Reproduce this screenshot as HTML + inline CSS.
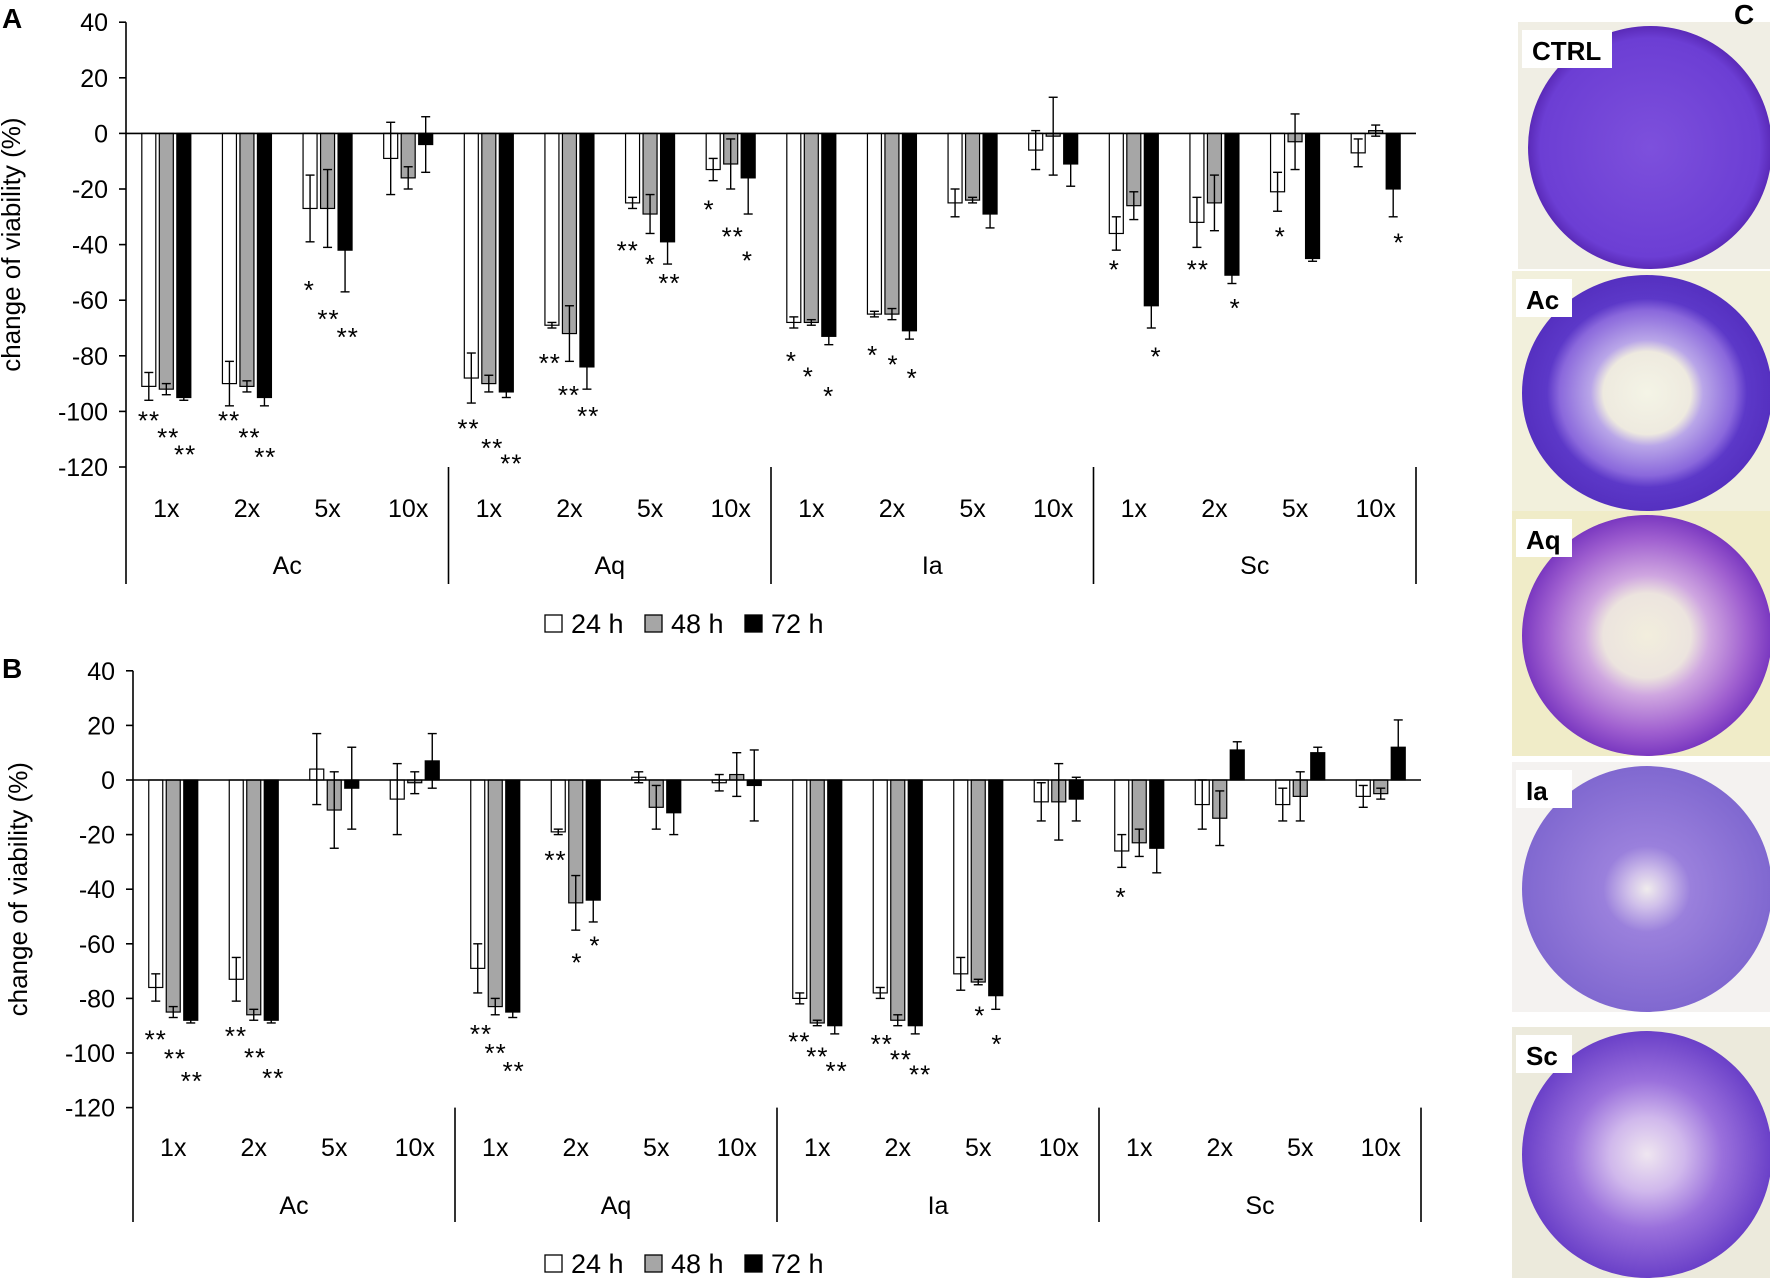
<!DOCTYPE html>
<html><head><meta charset="utf-8"><style>
html,body{margin:0;padding:0;background:#fff;}
svg{display:block;font-family:"Liberation Sans",sans-serif;}
</style></head><body>
<svg id="s" width="1770" height="1278" xmlns="http://www.w3.org/2000/svg">
<defs>
<radialGradient id="gctrl" cx="50%" cy="50%" r="50%"><stop offset="0" stop-color="#7d50dc"/><stop offset="0.9" stop-color="#6c3ed4"/><stop offset="1" stop-color="#5a2ab8"/></radialGradient>
<radialGradient id="gac" cx="50%" cy="50%" r="50%"><stop offset="0" stop-color="#f4f4e6"/><stop offset="0.35" stop-color="#eeeadf"/><stop offset="0.45" stop-color="#b9a6e8"/><stop offset="0.7" stop-color="#8a68dc"/><stop offset="0.8" stop-color="#5c38c8"/><stop offset="1" stop-color="#5530c0"/></radialGradient>
<radialGradient id="gaq" cx="50%" cy="50%" r="50%"><stop offset="0" stop-color="#f2eedd"/><stop offset="0.35" stop-color="#ece4de"/><stop offset="0.5" stop-color="#cfa6e0"/><stop offset="0.8" stop-color="#a060d0"/><stop offset="1" stop-color="#7a38c0"/></radialGradient>
<radialGradient id="gia" cx="50%" cy="50%" r="50%"><stop offset="0" stop-color="#f0ecec"/><stop offset="0.15" stop-color="#d0c0ea"/><stop offset="0.35" stop-color="#9a80dc"/><stop offset="1" stop-color="#8068d0"/></radialGradient>
<radialGradient id="gsc" cx="50%" cy="50%" r="50%"><stop offset="0" stop-color="#efe6f0"/><stop offset="0.3" stop-color="#d0b8ec"/><stop offset="0.6" stop-color="#9a70dc"/><stop offset="1" stop-color="#6a40c8"/></radialGradient>
</defs>
</svg>
<script>
const S=document.getElementById('s');const NS='http://www.w3.org/2000/svg';
function el(t,a,txt){const e=document.createElementNS(NS,t);for(const k in a)e.setAttribute(k,a[k]);if(txt!==undefined)e.textContent=txt;S.appendChild(e);return e;}
const groups=['Ac','Aq','Ia','Sc'],cats=['1x','2x','5x','10x'],fills=['#fff','#a6a6a6','#000'];
function panel(P){
 const {x0,gw,y0,k,label,lx,ly,data,stars,right,legY,catY,grpY,divBot}=P;
 const Y=v=>y0-v*k;
 el('text',{x:2,y:ly,'font-size':28,'font-weight':'bold'},label);
 el('line',{x1:x0,y1:Y(40),x2:x0,y2:divBot,stroke:'#000','stroke-width':1.6});
 for(let v=40;v>=-120;v-=20){el('line',{x1:x0-7,y1:Y(v),x2:x0,y2:Y(v),stroke:'#000','stroke-width':1.6});
  el('text',{x:x0-18,y:Y(v)+9,'font-size':25,'text-anchor':'end'},String(v));}
 el('text',{transform:`translate(${lx},${(Y(40)+Y(-120))/2}) rotate(-90)`,'font-size':26,'text-anchor':'middle'},'change of viability (%)');
 const cw=gw/4;
 data.forEach((row,i)=>{const g=Math.floor(i/4),c=i%4;const cx=x0+g*gw+(c+0.5)*cw;
  row.forEach((d,j)=>{const bx=cx+(j-1)*17.5;const v=d[0],e=d[1];
   const ya=Math.min(Y(0),Y(v)),h=Math.abs(Y(v)-Y(0));
   el('rect',{x:bx-7,y:ya,width:14,height:Math.max(h,0.5),fill:fills[j],stroke:'#000','stroke-width':1.2});
   el('line',{x1:bx,y1:Y(v+e),x2:bx,y2:Y(v-e),stroke:'#000','stroke-width':1.4});
   el('line',{x1:bx-4.5,y1:Y(v+e),x2:bx+4.5,y2:Y(v+e),stroke:'#000','stroke-width':1.4});
   el('line',{x1:bx-4.5,y1:Y(v-e),x2:bx+4.5,y2:Y(v-e),stroke:'#000','stroke-width':1.4});
  });
  el('text',{x:cx,y:catY,'font-size':25,'text-anchor':'middle'},cats[c]);
 });
 el('line',{x1:x0,y1:Y(0),x2:right,y2:Y(0),stroke:'#000','stroke-width':1.6});
 for(let g=0;g<4;g++){const xd=x0+(g+1)*gw;el('line',{x1:xd,y1:Y(-120),x2:xd,y2:divBot,stroke:'#000','stroke-width':1.6});
  el('text',{x:x0+g*gw+gw/2,y:grpY,'font-size':25,'text-anchor':'middle'},groups[g]);}
 stars.forEach(s=>{el('text',{x:s[0]*1.129,y:s[1]*1.129+12,'font-size':26,'text-anchor':'middle','letter-spacing':1},s[2]);});
 const L=[[545,'#fff','24 h'],[645,'#a6a6a6','48 h'],[745,'#000','72 h']];
 L.forEach(l=>{el('rect',{x:l[0],y:legY-8,width:17,height:17,fill:l[1],stroke:'#000','stroke-width':1.3});
  el('text',{x:l[0]+26,y:legY+10,'font-size':27},l[2]);});
}
const A=[
[[-91,5],[-92,2],[-95,1]],[[-90,8],[-91,2],[-95,3]],[[-27,12],[-27,14],[-42,15]],[[-9,13],[-16,4],[-4,10]],
[[-88,9],[-90,3],[-93,2]],[[-69,1],[-72,10],[-84,8]],[[-25,2],[-29,7],[-39,8]],[[-13,4],[-11,9],[-16,13]],
[[-68,2],[-68,1],[-73,3]],[[-65,1],[-65,2],[-71,3]],[[-25,5],[-24,1],[-29,5]],[[-6,7],[-1,14],[-11,8]],
[[-36,6],[-26,5],[-62,8]],[[-32,9],[-25,10],[-51,3]],[[-21,7],[-3,10],[-45,1]],[[-7,5],[1,2],[-20,10]]];
const As=[[132,370,'**'],[149,385,'**'],[164,400,'**'],[203,370,'**'],[221,385,'**'],[235,402,'**'],
[274,254,'*'],[291,280,'**'],[308,296,'**'],[415,377,'**'],[436,394,'**'],[453,408,'**'],
[487,319,'**'],[504,347,'**'],[521,366,'**'],[556,219,'**'],[576,231,'*'],[593,248,'**'],
[628,183,'*'],[649,207,'**'],[662,228,'*'],[701,317,'*'],[716,331,'*'],[734,348,'*'],
[773,312,'*'],[791,320,'*'],[808,332,'*'],[987,236,'*'],[1024,313,'*'],[1061,236,'**'],[1094,270,'*'],
[1134,207,'*'],[1239,212,'*']];
panel({x0:126,gw:322.5,y0:133.4,k:2.78,label:'A',lx:20,ly:28,data:A,stars:As,right:1416,legY:623,catY:517,grpY:574,divBot:584});
const B=[
[[-76,5],[-85,2],[-88,1]],[[-73,8],[-86,2],[-88,1]],[[4,13],[-11,14],[-3,15]],[[-7,13],[-1,4],[7,10]],
[[-69,9],[-83,3],[-85,2]],[[-19,1],[-45,10],[-44,8]],[[1,2],[-10,8],[-12,8]],[[-1,3],[2,8],[-2,13]],
[[-80,2],[-89,1],[-90,3]],[[-78,2],[-88,2],[-90,3]],[[-71,6],[-74,1],[-79,5]],[[-8,7],[-8,14],[-7,8]],
[[-26,6],[-23,5],[-25,9]],[[-9,9],[-14,10],[11,3]],[[-9,6],[-6,9],[10,2]],[[-6,4],[-5,2],[12,10]]];
const Bs=[[138,918,'**'],[155,935,'**'],[170,955,'**'],[209,915,'**'],[226,934,'**'],[242,952,'**'],
[426,913,'**'],[439,930,'**'],[455,946,'**'],[492,759,'**'],[511,850,'*'],[527,835,'*'],
[708,920,'**'],[724,933,'**'],[741,946,'**'],[781,922,'**'],[798,936,'**'],[815,949,'**'],
[868,897,'*'],[883,922,'*'],[993,792,'*']];
panel({x0:133,gw:322,y0:780,k:2.73,label:'B',lx:27,ly:678,data:B,stars:Bs,right:1421,legY:1263,catY:1156,grpY:1214,divBot:1222});
const ph=[['CTRL',1518,22,252,247,'gctrl','#f0eee4'],['Ac',1512,271,258,240,'gac','#f2f0dc'],['Aq',1512,511,258,245,'gaq','#f0ecc8'],['Ia',1512,762,258,250,'gia','#f4f2f0'],['Sc',1512,1027,258,251,'gsc','#eceadc']];
ph.forEach(p=>{const[n,x,y,w,h,g,bg]=p;
 el('rect',{x,y,width:w,height:h,fill:bg});
 el('ellipse',{cx:x+w/2+6,cy:y+h/2+2,rx:w/2-4,ry:h/2-2,fill:'url(#'+g+')'});
 const tw=n.length*17+22;
 el('rect',{x:x+4,y:y+8,width:tw,height:38,fill:'#fff'});
 el('text',{x:x+14,y:y+38,'font-size':26,'font-weight':'bold'},n);
});
el('rect',{x:1730,y:0,width:40,height:22,fill:'#fff'});
el('text',{x:1734,y:24,'font-size':28,'font-weight':'bold'},'C');
</script>
</body></html>
